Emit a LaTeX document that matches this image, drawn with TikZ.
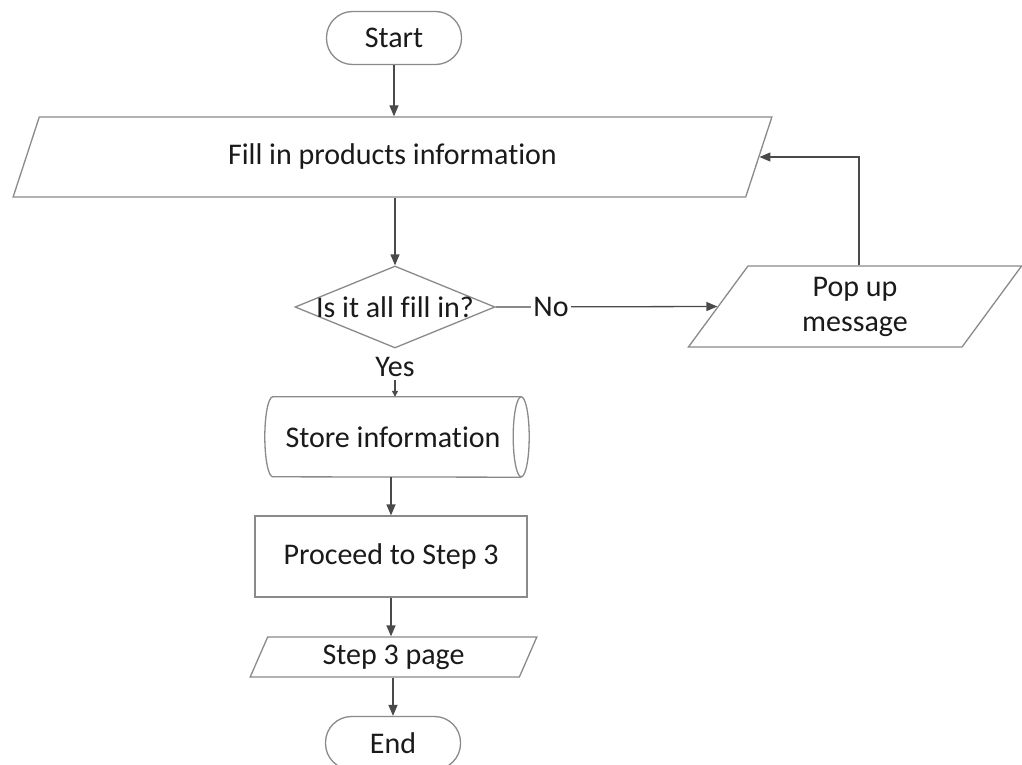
\documentclass[tikz,border=0pt]{standalone}
\usepackage{fontspec}
\setmainfont{Carlito}[Ligatures=NoCommon, RawFeature={-liga;-clig;-dlig}]
\usetikzlibrary{shapes.geometric, arrows.meta}
\definecolor{outline}{HTML}{8A8A8A}
\definecolor{wire}{HTML}{4A4A4A}
\definecolor{ink}{HTML}{1A1A1A}
\begin{document}
\begin{tikzpicture}[x=1pt, y=1pt,
  every node/.style={font=\fontsize{30}{35}\selectfont, text=ink},
  boxline/.style={draw=outline, line width=1.3pt},
  terminal/.style={boxline, rectangle, rounded corners=26pt, minimum width=135pt, minimum height=53pt, inner sep=0pt},
  io/.style={boxline, trapezium, trapezium stretches=true, inner sep=0pt},
  process/.style={boxline, rectangle, minimum width=272pt, minimum height=81pt, inner sep=0pt},
  decision/.style={boxline, diamond, minimum width=200pt, minimum height=82pt, inner sep=0pt},
  flow/.style={draw=wire, line width=1.3pt, -{Triangle[length=11pt,width=9pt]}},
  smallflow/.style={draw=wire, line width=1.3pt, -{Triangle[length=6pt,width=6pt]}},
]
\useasboundingbox (0,0) rectangle (1022,-765);
\fill[white] (0,0) rectangle (1022,-765);

% main column
\node[terminal] (start) at (394,-38) {Start};
\node[io, trapezium left angle=64.6, trapezium right angle=115.4,
      minimum width=761pt, minimum height=80pt] (fill) at (392.5,-157) {Fill in products information};
\node[decision] (dec) at (395,-307) {};
\node[inner sep=0pt] (dectext) at (dec) {Is it all fill in?};
\node (yes) at (395,-367) {Yes};

% storage drum: the node holds the text, the outline is drawn from its corners
\node[minimum width=256pt, minimum height=80pt, inner sep=0pt] (cyl) at (393,-437) {Store information};
\draw[boxline] (cyl.north east) arc[start angle=90, end angle=450, x radius=8pt, y radius=40pt];
\draw[boxline] (cyl.north east) -- ([xshift=8pt]cyl.north west)
  arc[start angle=90, end angle=270, x radius=8pt, y radius=40pt] -- (cyl.south east);

\node[process] (proc) at (391,-556.5) {Proceed to Step 3};
\node[io, trapezium left angle=68.2, trapezium right angle=111.8,
      minimum width=287pt, minimum height=40pt] (page) at (393.5,-657) {Step 3 page};
\node[terminal] (endn) at (393,-743) {End};

% side branch
\node[io, trapezium left angle=63.7, trapezium right angle=116.3,
      minimum width=334pt, minimum height=81pt, align=center] (pop) at (855,-306.5) {\raisebox{-3pt}{Pop up}\\\raisebox{-3pt}{message}};

% connectors
\draw[flow] (start.south) -- (start.south |- fill.north);
\draw[flow] (dec.north |- fill.south) -- (dec.north);
\draw[smallflow] (yes.south) -- (yes.south |- cyl.north);
\draw[flow] (cyl.south -| proc.north) -- (proc.north);
\draw[flow] (proc.south) -- (proc.south |- page.north);
\draw[flow] (endn.north |- page.south) -- (endn.north);
\draw[flow] (dec.east) -- node[pos=0.25, fill=white, inner sep=2pt] (nolabel) {No} (pop.west);
\draw[flow] ([xshift=4pt]pop.center |- pop.north) |- (fill.east);
\end{tikzpicture}
\end{document}
